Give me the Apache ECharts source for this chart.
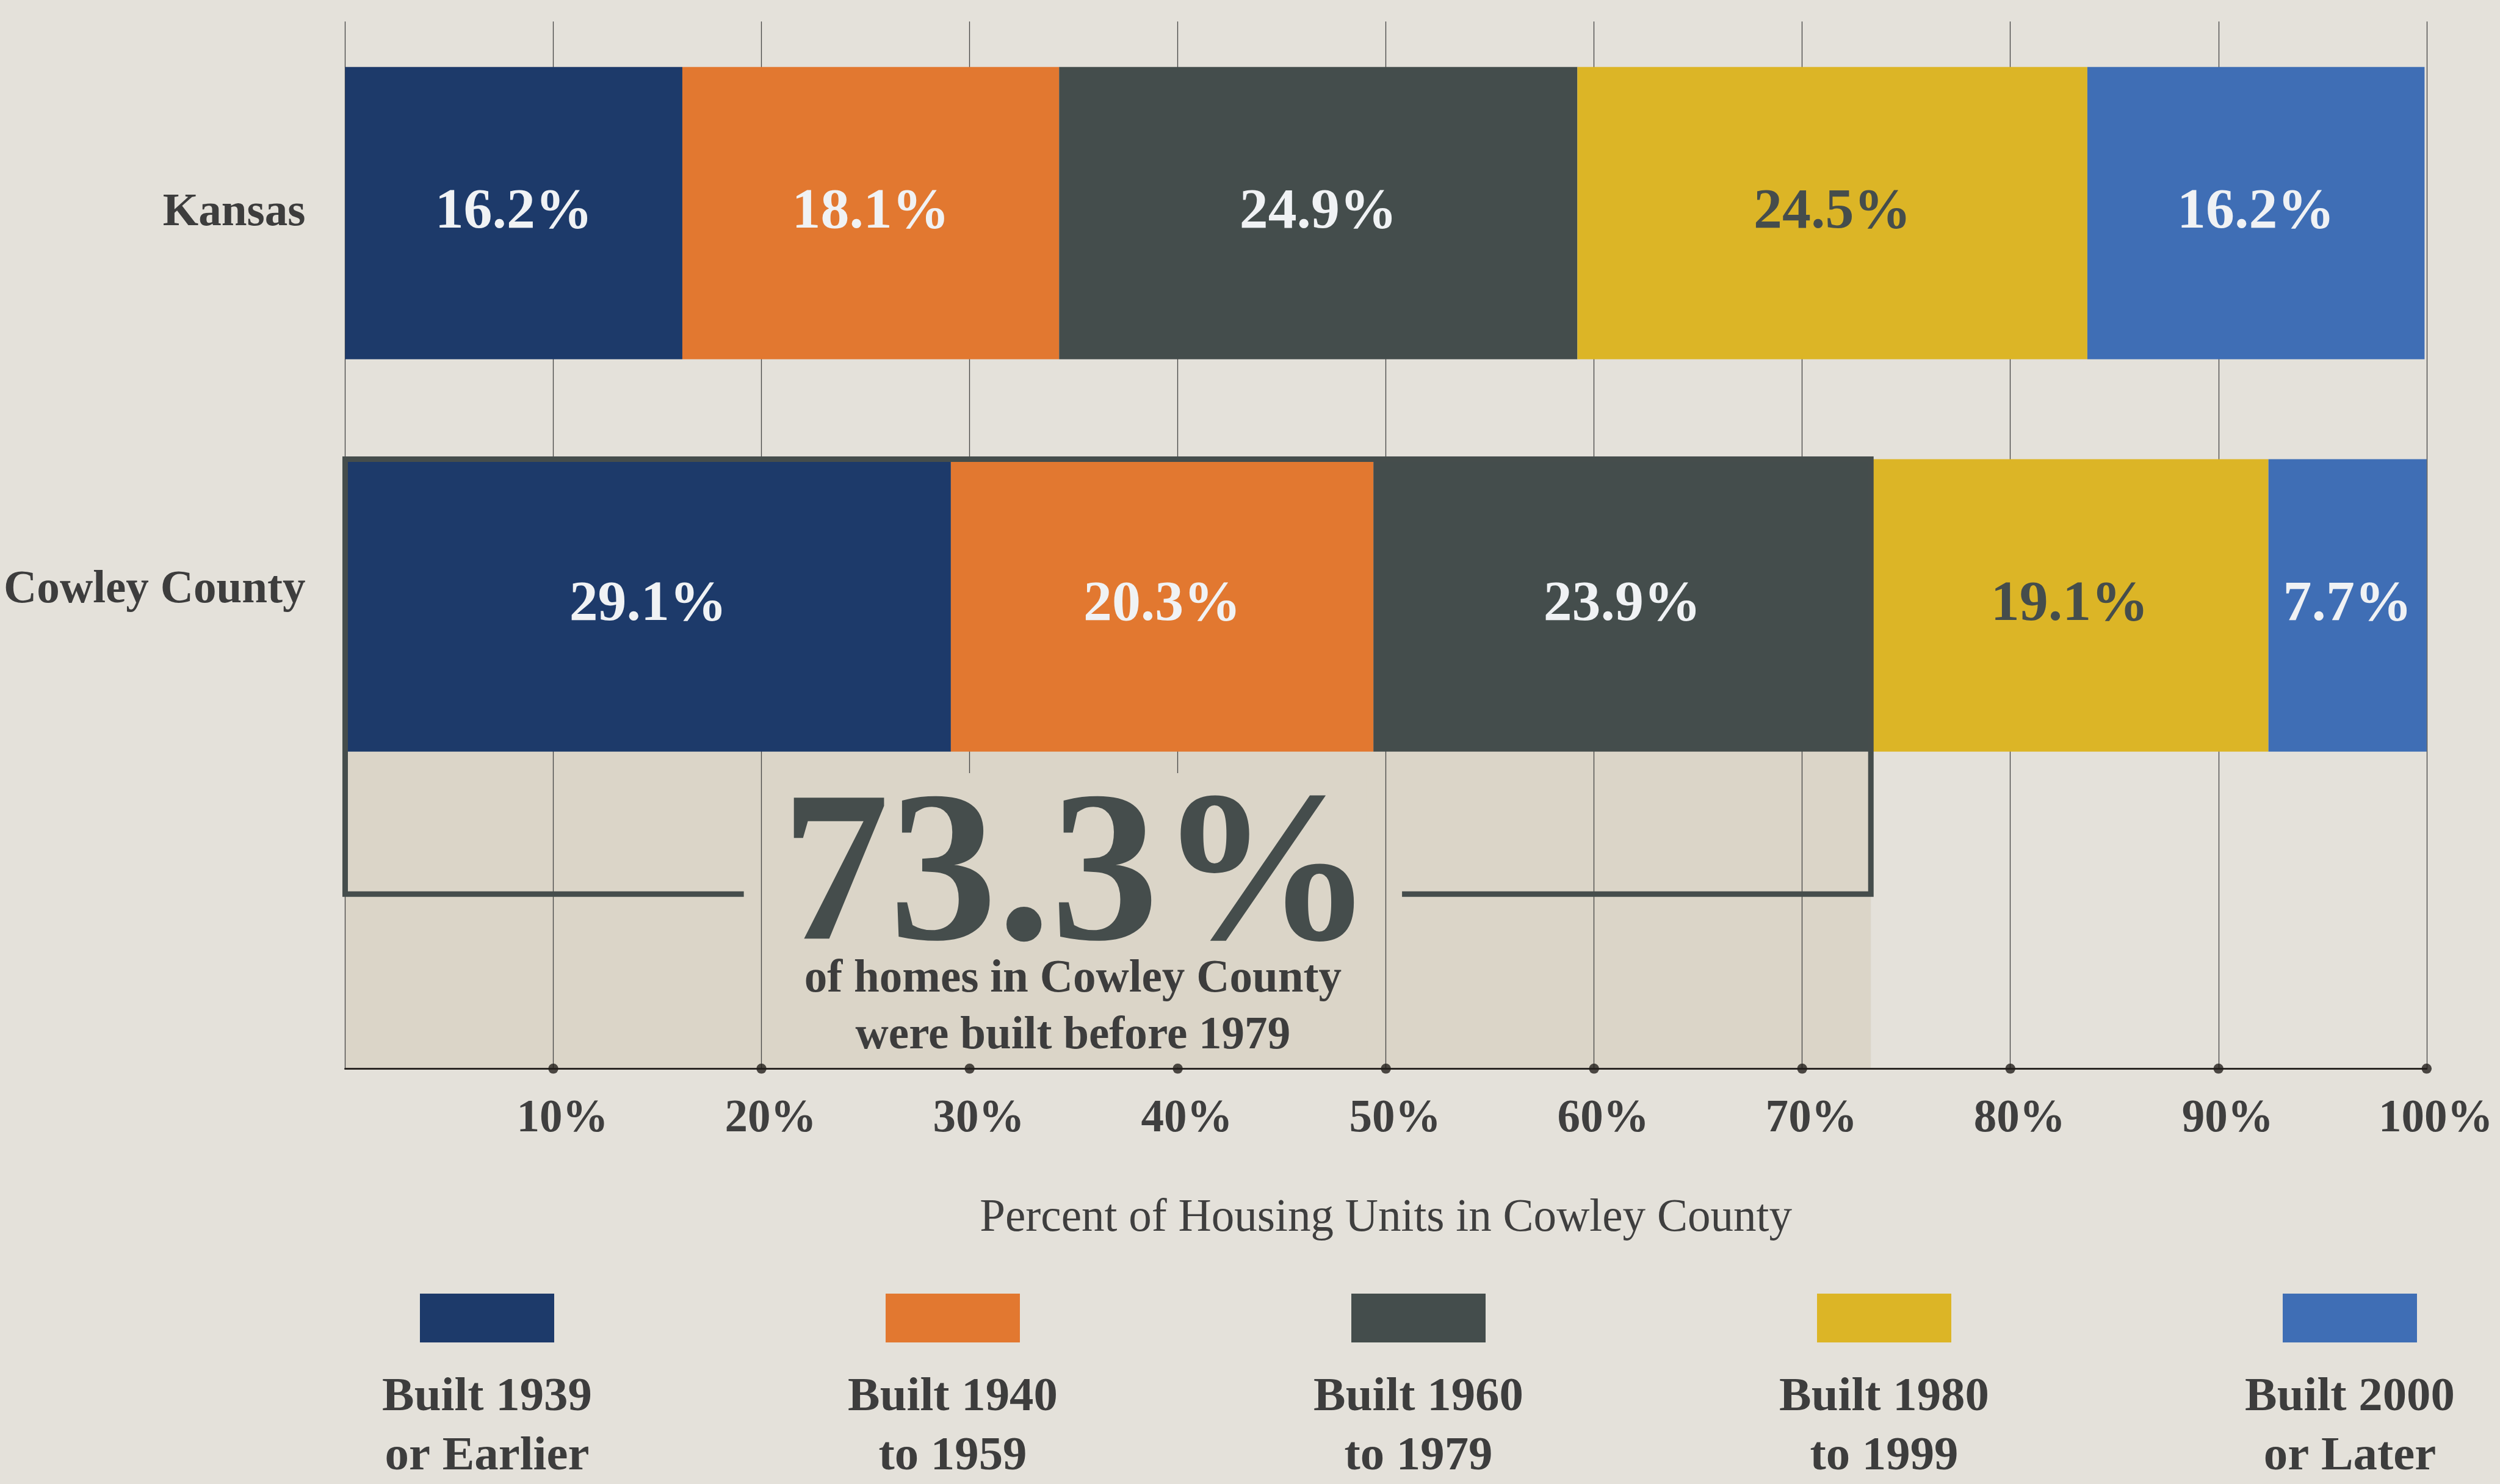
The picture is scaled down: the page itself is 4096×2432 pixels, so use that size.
<!DOCTYPE html>
<html>
<head>
<meta charset="utf-8">
<title>Age of housing units, Kansas vs Cowley County</title>
<script src="https://cdn.jsdelivr.net/npm/echarts@6/dist/echarts.min.js"></script>
<style>
  html, body { margin: 0; padding: 0; background: #e4e1da; }
  #main { width: 4096px; height: 2432px; }
</style>
</head>
<body>
<div id="main"></div>
<script>
// chart data
const regions = ['Kansas', 'Cowley County'];
const periods = ['Built 1939\nor Earlier', 'Built 1940\nto 1959', 'Built 1960\nto 1979', 'Built 1980\nto 1999', 'Built 2000\nor Later'];
const kansas = [16.2, 18.1, 24.9, 24.5, 16.2];
const cowley = [29.1, 20.3, 23.9, 19.1, 7.7];
const ticks = [10, 20, 30, 40, 50, 60, 70, 80, 90, 100];
const colors = ['#1d3a6a', '#e27830', '#444d4c', '#dcb526', '#3f6eb5'];

// everything is drawn at 0.751 of the reference size
const S = 0.751;
const FONT = '"Liberation Serif", "DejaVu Serif", serif';
const DARK = '#454d4c';
const TEXT = '#3d3d3d';
const barW = 638 * S;

var chart = echarts.init(document.getElementById('main'));

var series = periods.map(function (name, i) {
    return {
        name: name,
        type: 'bar',
        stack: 'all',
        xAxisIndex: 0,
        yAxisIndex: 0,
        barWidth: barW,
        clip: true,
        z: 4,
        data: [kansas[i], cowley[i]],
        itemStyle: { color: colors[i] },
        label: {
            show: true,
            position: 'inside',
            formatter: function (p) { return p.value.toFixed(1) + '%'; },
            fontFamily: FONT,
            fontWeight: 'bold',
            fontSize: 125 * S,
            color: i === 3 ? DARK : '#f0f2f4' // dark text on the yellow one
        }
    };
});

// dots sitting on the axis at each tick
series.push({
    type: 'scatter',
    xAxisIndex: 1,
    yAxisIndex: 1,
    data: ticks.map(function (t) { return [t, 0]; }),
    symbol: 'circle',
    symbolSize: 22 * S,
    itemStyle: { color: '#231f1c' },
    clip: false,
    silent: true,
    z: 6
});

var catFont = { fontFamily: FONT, fontWeight: 'bold', fontSize: 100 * S, color: TEXT };

var option = {
    backgroundColor: '#e4e1da',
    animation: false,
    grid: [
        // bars
        { left: 753 * S, right: 4096 - 5294 * S, top: 37 * S, height: 1712 * S, outerBoundsMode: 'none' },
        // grid lines + visible x axis
        { left: 753 * S, right: 4096 - 5294 * S, top: 47 * S, height: 2285 * S, outerBoundsMode: 'none' }
    ],
    xAxis: [
        { gridIndex: 0, type: 'value', min: 0, max: 100, show: false },
        {
            gridIndex: 1,
            type: 'value',
            min: 0,
            max: 100,
            interval: 10,
            z: 1,
            axisLine: { show: true, lineStyle: { color: '#2b2724', width: 3 } },
            axisTick: { show: false },
            splitLine: { show: true, lineStyle: { color: '#444444', width: 1.3 } },
            axisLabel: {
                formatter: function (v) { return v === 0 ? '' : v + '%'; },
                fontFamily: FONT,
                fontWeight: 'bold',
                fontSize: 100 * S,
                color: '#3f3f3f',
                margin: 83,
                verticalAlign: 'middle',
                padding: [0, 0, 0, 30]
            },
            name: 'Percent of Housing Units in Cowley County',
            nameLocation: 'middle',
            nameGap: 246,
            nameTextStyle: {
                fontFamily: FONT,
                fontSize: 100 * S,
                color: '#3f3f3f',
                verticalAlign: 'middle'
            }
        }
    ],
    yAxis: [
        {
            gridIndex: 0,
            type: 'category',
            inverse: true,
            data: regions,
            axisLine: { show: false },
            axisTick: { show: false },
            axisLabel: Object.assign({
                // the county label sits a little above its bar in the original
                formatter: function (v) { return v === regions[1] ? '{up|' + v + '}' : v; },
                rich: { up: Object.assign({ padding: [0, 0, 48, 0] }, catFont) },
                margin: 65
            }, catFont)
        },
        { gridIndex: 1, type: 'value', min: 0, max: 1, show: false }
    ],
    series: series
};
chart.setOption(option);

// annotation box around the pre-1979 part of Cowley County
var before1979 = cowley[0] + cowley[1] + cowley[2];
var xAt = function (v) { return chart.convertToPixel({ gridIndex: 1 }, [v, 0])[0]; };
var axisY = chart.convertToPixel({ gridIndex: 1 }, [0, 0])[1];
var cowleyY = chart.convertToPixel({ yAxisIndex: 0 }, 'Cowley County');
var barTop = cowleyY - barW / 2;
var xL = xAt(0), xR = xAt(before1979);
var cx = xL + (xR - xL) * 0.477;
var outY = 1951 * S;
var gap = 718 * S;

var graphics = [
    {
        type: 'rect', z: 0, silent: true,
        shape: { x: xL, y: barTop, width: xR - xL, height: axisY - barTop },
        style: { fill: '#dbd5c8' }
    },
    {
        // hides the grid lines behind the big number
        type: 'rect', z: 2, silent: true,
        shape: { x: cx - 640 * S, y: 1687 * S, width: 1280 * S, height: axisY - 2 - 1687 * S },
        style: { fill: '#dbd5c8' }
    },
    {
        type: 'polyline', z: 5, silent: true,
        shape: { points: [[cx - gap, outY], [xL, outY], [xL, barTop], [xR, barTop], [xR, outY], [cx + gap, outY]] },
        style: { stroke: DARK, lineWidth: 12 * S, fill: null, lineJoin: 'miter' }
    },
    {
        type: 'text', z: 3, silent: true,
        style: {
            text: before1979.toFixed(1) + '%',
            x: cx + 8, y: 1895 * S + 24,
            font: 'bold ' + (470 * S) + 'px ' + FONT,
            fill: DARK, align: 'center', verticalAlign: 'middle'
        }
    },
    {
        type: 'text', z: 3, silent: true,
        style: {
            text: 'of homes in Cowley County\nwere built before 1979',
            x: cx, y: 2191 * S + 7,
            font: 'bold ' + (100 * S) + 'px ' + FONT,
            lineHeight: 124 * S,
            fill: TEXT, align: 'center', verticalAlign: 'middle'
        }
    }
];

// legend: swatch with the name underneath
periods.forEach(function (name, i) {
    var lx = 798 + i * 763;
    graphics.push({
        type: 'rect', silent: true,
        shape: { x: lx - 110, y: 2120, width: 220, height: 80 },
        style: { fill: colors[i] }
    });
    graphics.push({
        type: 'text', silent: true,
        style: {
            text: name,
            x: lx, y: 2339,
            font: 'bold ' + (105 * S) + 'px ' + FONT,
            lineHeight: 97,
            fill: TEXT, align: 'center', verticalAlign: 'middle'
        }
    });
});

chart.setOption({ graphic: graphics });
</script>
</body>
</html>
